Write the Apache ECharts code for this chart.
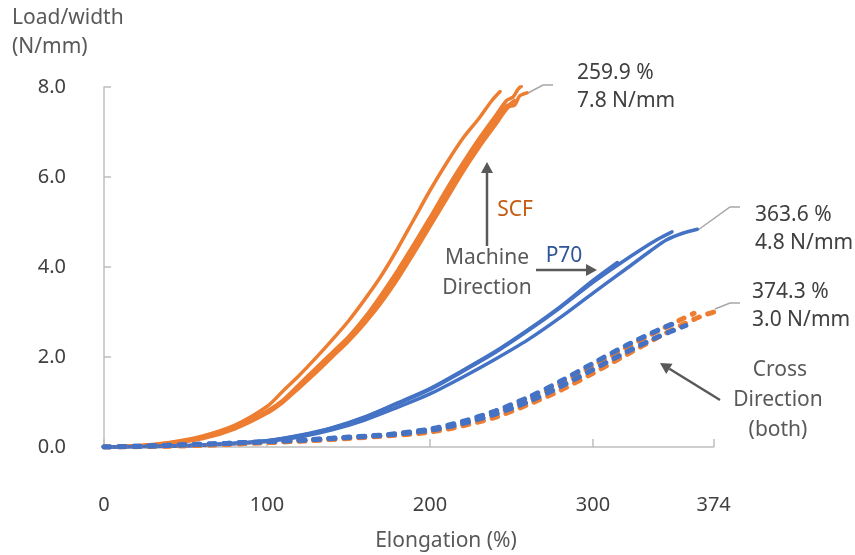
<!DOCTYPE html>
<html>
<head>
<meta charset="utf-8">
<script src="https://cdn.jsdelivr.net/npm/echarts@6/dist/echarts.min.js"></script>
<style>html,body{margin:0;padding:0;background:#fff}#c{width:855px;height:555px}</style>
</head>
<body>
<div id="c"></div>
<script>
// ---- data (Elongation %, Load/width N/mm) ----
const xTicks = [0, 100, 200, 300, 374];
const yTicks = [0, 2, 4, 6, 8];

const scfMD1 = [[0,0],[20,0.03],[40,0.1],[60,0.24],[80,0.48],[100,0.9],[110,1.25],[120,1.6],[130,1.98],[140,2.38],[150,2.8],[160,3.28],[170,3.8],[180,4.4],[190,5.05],[200,5.7],[210,6.3],[220,6.85],[230,7.3],[238,7.7],[243,7.9]];
const scfMD2 = [[0,0],[20,0.02],[40,0.08],[60,0.2],[80,0.42],[100,0.8],[110,1.05],[120,1.4],[130,1.75],[140,2.1],[150,2.45],[160,2.88],[170,3.38],[180,3.92],[190,4.5],[200,5.1],[210,5.72],[220,6.3],[230,6.85],[240,7.35],[247,7.7],[251,7.78],[254,7.95],[256,8.02]];
const scfMD3 = [[0,0],[20,0.02],[40,0.08],[60,0.18],[80,0.4],[100,0.75],[110,1.0],[120,1.32],[130,1.65],[140,2.0],[150,2.35],[160,2.75],[170,3.2],[180,3.72],[190,4.3],[200,4.9],[210,5.5],[220,6.1],[230,6.65],[240,7.15],[248,7.55],[252,7.6],[255,7.8],[259.5,7.87]];
const scfMD4 = [[0,0],[20,0.02],[40,0.09],[60,0.2],[80,0.43],[100,0.78],[110,1.02],[120,1.35],[130,1.7],[140,2.05],[150,2.42],[160,2.8],[170,3.28],[180,3.8],[190,4.38],[200,4.98],[210,5.6],[220,6.2],[230,6.75],[240,7.25],[246,7.55],[249,7.62],[252,7.7]];
const p70MD1 = [[0,0],[25,0.01],[50,0.03],[75,0.07],[100,0.14],[120,0.26],[140,0.43],[160,0.67],[180,0.98],[200,1.3],[220,1.7],[240,2.12],[260,2.6],[280,3.12],[300,3.7],[315,4.1]];
const p70MD2 = [[0,0],[25,0.01],[50,0.03],[75,0.07],[100,0.14],[120,0.25],[140,0.42],[160,0.66],[180,0.96],[200,1.28],[220,1.68],[240,2.1],[260,2.58],[280,3.1],[300,3.66],[315,4.04],[330,4.4],[340,4.62],[348.5,4.78]];
const p70MD3 = [[0,0],[25,0.01],[50,0.03],[75,0.06],[100,0.12],[120,0.22],[140,0.38],[160,0.6],[180,0.88],[200,1.18],[220,1.55],[240,1.95],[260,2.38],[280,2.88],[300,3.42],[320,3.95],[335,4.35],[345,4.6],[355,4.75],[364,4.84]];
const scfCD1 = [[0,0],[25,0.01],[50,0.03],[75,0.06],[100,0.1],[125,0.14],[150,0.2],[175,0.26],[200,0.36],[220,0.52],[240,0.74],[260,1.04],[280,1.4],[300,1.8],[320,2.2],[340,2.58],[355,2.85],[362,2.97]];
const scfCD2 = [[0,0],[25,0.01],[50,0.03],[75,0.06],[100,0.1],[125,0.14],[150,0.19],[175,0.25],[200,0.33],[220,0.47],[240,0.66],[260,0.94],[280,1.26],[300,1.64],[320,2.04],[340,2.44],[355,2.72],[366,2.9],[374,3.0]];
const p70CD1 = [[0,0],[25,0.02],[50,0.05],[75,0.08],[100,0.12],[125,0.16],[150,0.22],[175,0.28],[200,0.4],[220,0.57],[240,0.8],[260,1.1],[280,1.46],[300,1.86],[320,2.25],[340,2.6],[352,2.78]];
const p70CD2 = [[0,0],[25,0.02],[50,0.05],[75,0.08],[100,0.12],[125,0.16],[150,0.21],[175,0.27],[200,0.37],[220,0.52],[240,0.73],[260,1.0],[280,1.34],[300,1.72],[320,2.1],[340,2.45],[357,2.7]];

const ORANGE = '#ED7D31';
const BLUE = '#4472C4';
const FONT = '"Noto Sans"';

function solid(data, color) {
  return { type: 'line', data, showSymbol: false, smooth: 0.3, silent: true,
    lineStyle: { color, width: 3.5, cap: 'round' } };
}
function dashed(data, color) {
  return { type: 'line', data, showSymbol: false, smooth: 0.3, silent: true,
    lineStyle: { color, width: 5, type: [6, 9], cap: 'round' } };
}

const chart = echarts.init(document.getElementById('c'), null, { renderer: 'canvas' });

function txt(x, y, s, color, align) {
  return { type: 'text', x, y, style: { text: s, fill: color || '#404040', font: '21px ' + FONT,
    textAlign: align || 'left', textVerticalAlign: 'middle' } };
}
const ARROW = '#595959';
function arrow(x1, y1, x2, y2) {
  const dx = x2 - x1, dy = y2 - y1, L = Math.hypot(dx, dy);
  const ux = dx / L, uy = dy / L, hl = 11, hw = 6;
  const bx = x2 - ux * hl, by = y2 - uy * hl;
  return [
    { type: 'line', shape: { x1, y1, x2: bx, y2: by }, style: { stroke: ARROW, lineWidth: 2.5 } },
    { type: 'polygon', shape: { points: [[x2, y2], [bx - uy * hw, by + ux * hw], [bx + uy * hw, by - ux * hw]] }, style: { fill: ARROW } }
  ];
}
function leader(pts) {
  return { type: 'polyline', shape: { points: pts }, style: { stroke: '#A6A6A6', lineWidth: 1.5, fill: null } };
}

chart.setOption({
  animation: false,
  backgroundColor: '#fff',
  grid: { left: 104, right: 141.4, top: 87, bottom: 108 },
  xAxis: {
    type: 'value', min: 0, max: 374, offset: 22,
    axisLine: { show: true, lineStyle: { color: '#BFBFBF', width: 1.5 } },
    axisTick: { show: true, inside: true, length: 8, customValues: xTicks, lineStyle: { color: '#BFBFBF', width: 1.5 } },
    axisLabel: { customValues: xTicks, margin: 26, color: '#404040', fontSize: 20, fontFamily: FONT },
    splitLine: { show: false }
  },
  yAxis: {
    type: 'value', min: 0, max: 8, interval: 2, offset: 16,
    axisLine: { show: true, lineStyle: { color: '#BFBFBF', width: 1.5 } },
    axisTick: { show: true, inside: true, length: 7, lineStyle: { color: '#BFBFBF', width: 1.5 } },
    axisLabel: { margin: 22, color: '#404040', fontSize: 20, fontFamily: FONT, formatter: v => v.toFixed(1) },
    splitLine: { show: false }
  },
  series: [
    solid(scfMD1, ORANGE), solid(scfMD2, ORANGE), solid(scfMD3, ORANGE), solid(scfMD4, ORANGE),
    solid(p70MD1, BLUE), solid(p70MD2, BLUE), solid(p70MD3, BLUE),
    dashed(scfCD1, ORANGE), dashed(scfCD2, ORANGE),
    dashed(p70CD1, BLUE), dashed(p70CD2, BLUE)
  ],
  graphic: [
    txt(12, 18, 'Load/width', '#595959'),
    txt(12, 47, '(N/mm)', '#595959'),
    txt(446, 541, 'Elongation (%)', '#595959', 'center'),
    txt(577, 73, '259.9 %'), txt(577, 101, '7.8 N/mm'),
    txt(755, 215, '363.6 %'), txt(755, 243, '4.8 N/mm'),
    txt(752, 292, '374.3 %'), txt(752, 320, '3.0 N/mm'),
    txt(515, 210, 'SCF', '#C55A11', 'center'),
    txt(487, 258, 'Machine', '#595959', 'center'),
    txt(487, 288, 'Direction', '#595959', 'center'),
    txt(564, 256, 'P70', '#2F5597', 'center'),
    txt(780, 370, 'Cross', '#595959', 'center'),
    txt(778, 400, 'Direction', '#595959', 'center'),
    txt(778, 430, '(both)', '#595959', 'center'),
    ...arrow(487, 246, 487, 162),
    ...arrow(536, 270, 597, 270),
    ...arrow(720, 400, 660, 363),
    leader([[528, 93], [543, 85], [553, 85]]),
    leader([[698, 230], [730, 207], [740, 207]]),
    leader([[715, 309], [730, 303], [740, 303]])
  ]
});
</script>
</body>
</html>
